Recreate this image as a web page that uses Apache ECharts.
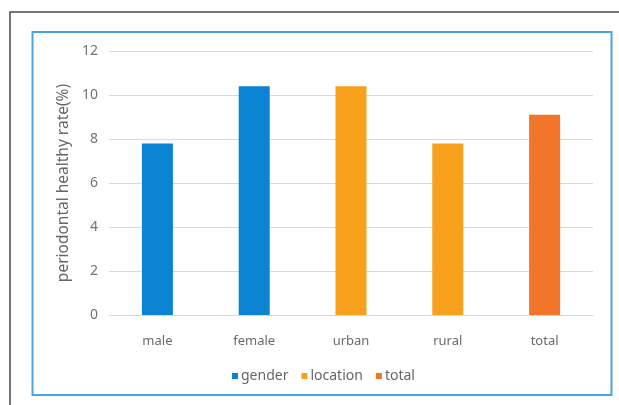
<!DOCTYPE html>
<html>
<head>
<meta charset="utf-8">
<script src="https://cdn.jsdelivr.net/npm/echarts@6/dist/echarts.min.js"></script>
<style>html,body{margin:0;padding:0;background:#fff;}#c{width:619px;height:405px;}</style>
</head>
<body>
<div id="c"></div>
<script>
var categories = ['male', 'female', 'urban', 'rural', 'total'];
var genderValues = [7.8, 10.4, null, null, null];
var locationValues = [null, null, 10.4, 7.8, null];
var totalValues = [null, null, null, null, 9.1];
var seriesNames = ['gender', 'location', 'total'];
var yTicks = { min: 0, max: 12, interval: 2 };

var chart = echarts.init(document.getElementById('c'));
var font = "'Noto Sans', 'Open Sans', sans-serif";
var colors = ['#0a84d2', '#f7a11c', '#f3752a'];
function mk(name, data, i) {
  return { name: name, type: 'bar', data: data, barWidth: 31, barGap: '-100%',
    itemStyle: { color: colors[i] } };
}
chart.setOption({
  animation: false,
  graphic: [
    { type: 'rect', shape: { x: 10, y: 12, width: 640, height: 420 }, style: { fill: 'none', stroke: '#4a4a4a', lineWidth: 1.5 }, silent: true },
    { type: 'rect', shape: { x: 32.5, y: 32, width: 579, height: 363 }, style: { fill: 'none', stroke: '#4ba3e0', lineWidth: 2 }, silent: true }
  ],
  grid: { left: 109, right: 26, top: 51, bottom: 90 },
  legend: {
    data: seriesNames, top: 364, left: 227, icon: 'rect', itemWidth: 6, itemHeight: 6, itemGap: 13,
    textStyle: { color: '#666666', fontSize: 14, fontFamily: font, padding: [0, 0, 0, -2] }
  },
  xAxis: {
    type: 'category', data: categories,
    axisLine: { lineStyle: { color: '#d9d9d9', width: 1 } },
    axisTick: { show: false },
    axisLabel: { color: '#6a6a6a', fontSize: 13, fontFamily: font, margin: 20 }
  },
  yAxis: {
    type: 'value', min: yTicks.min, max: yTicks.max, interval: yTicks.interval,
    name: 'periodontal healthy rate(%)', nameLocation: 'middle', nameGap: 36,
    nameTextStyle: { color: '#666666', fontSize: 15.5, fontFamily: font },
    axisLine: { show: false }, axisTick: { show: false },
    axisLabel: { color: '#737373', fontSize: 14, fontFamily: font, margin: 11 },
    splitLine: { lineStyle: { color: '#d9d9d9', width: 1 } }
  },
  series: [mk(seriesNames[0], genderValues, 0), mk(seriesNames[1], locationValues, 1), mk(seriesNames[2], totalValues, 2)]
});
</script>
</body>
</html>
